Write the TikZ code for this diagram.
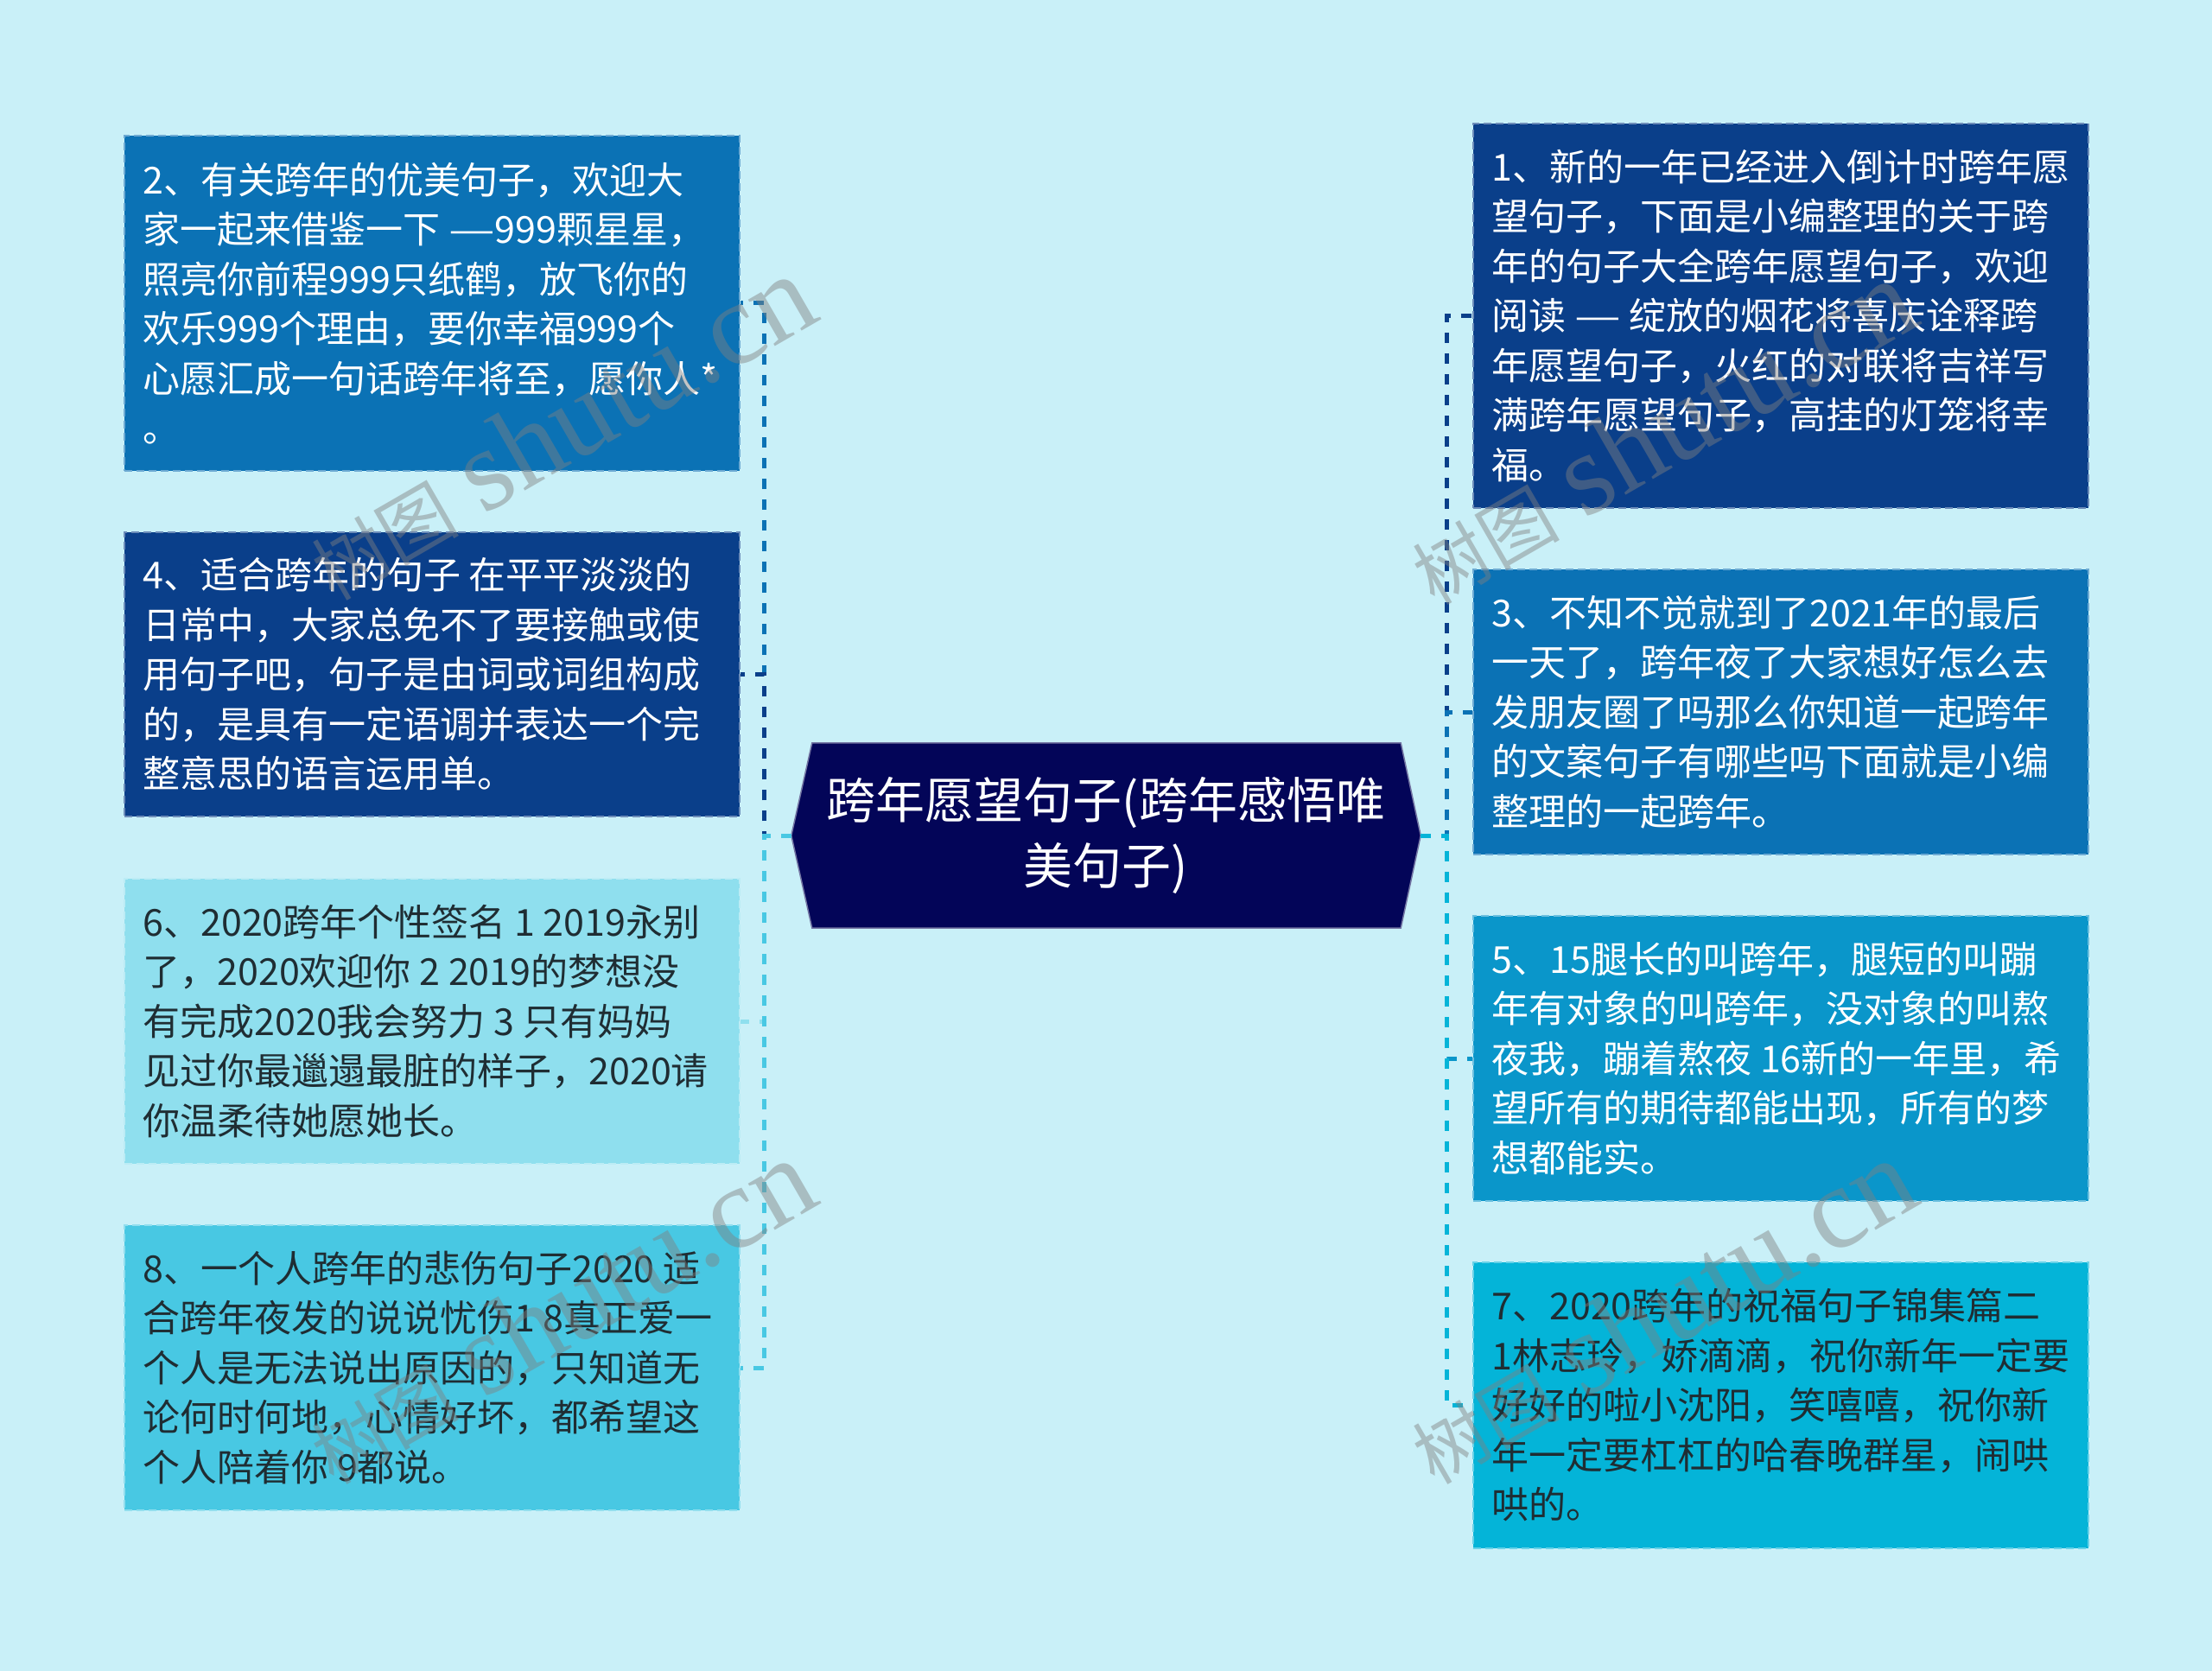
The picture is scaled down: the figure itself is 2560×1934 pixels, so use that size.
\documentclass[tikz,border=0pt]{standalone}
\usepackage{fontspec}
\setmainfont{Noto Sans CJK SC}
\newfontfamily\cjkf{Noto Sans CJK SC}
\newfontfamily\wmserif{Liberation Serif}
\definecolor{bgc}{RGB}{201,240,248}
\definecolor{ctr}{RGB}{3,5,88}
\definecolor{cmid}{RGB}{11,114,181}
\definecolor{cnavy}{RGB}{10,63,138}
\definecolor{clight}{RGB}{143,223,238}
\definecolor{ccyan}{RGB}{72,200,227}
\definecolor{cfive}{RGB}{10,150,202}
\definecolor{cseven}{RGB}{4,180,216}
\definecolor{dtext}{RGB}{31,45,51}
\tikzset{
  boxs/.style={rectangle, fill=#1, draw=#1!60!white, line width=2.5pt,
    dash pattern=on 9pt off 5pt, minimum width=712pt, inner sep=0pt},
  txt/.style={anchor=west, align=left, inner sep=0pt,
    font={\fontsize{43pt}{57.5pt}\selectfont}},
  conn/.style={draw=#1, line width=5pt, dash pattern=on 12pt off 12pt},
  roottext/.style={text=white, align=center, inner sep=0pt,
    font={\fontsize{57pt}{76pt}\selectfont}},
  wm/.style={text=black!50, opacity=0.45, inner sep=0pt, rotate=30}
}
\newcommand{\wmtext}{{\fontsize{85pt}{90pt}\selectfont 树图}\hspace{30pt}{\wmserif\fontsize{135pt}{140pt}\selectfont shutu.cn}}
\newcommand{\wdash}{\scalebox{1.4}[1]{—}}
\begin{document}
\begin{tikzpicture}[x=1pt,y=-1pt]
\fill[bgc] (0,0) rectangle (2560,1934);
\useasboundingbox (0,0) rectangle (2560,1934);

% boxes left
\node[boxs=cmid, minimum height=388pt] (b2) at (500,351) {};
\node[boxs=cnavy, minimum height=329pt] (b4) at (500,780.5) {};
\node[boxs=clight, minimum height=330pt] (b6) at (500,1182) {};
\node[boxs=ccyan, minimum height=330pt] (b8) at (500,1583) {};
% boxes right
\node[boxs=cnavy, minimum height=445pt] (b1) at (2061,365.5) {};
\node[boxs=cmid, minimum height=330pt] (b3) at (2061,824) {};
\node[boxs=cfive, minimum height=330pt] (b5) at (2061,1225) {};
\node[boxs=cseven, minimum height=331pt] (b7) at (2061,1626.5) {};

% root
\node[minimum width=728pt, minimum height=214pt, inner sep=0pt] (root) at (1280,967) {};
\filldraw[fill=ctr, draw=ctr!55!white, line width=1.5pt] ([xshift=24pt]root.north west) -- ([xshift=-23pt]root.north east) -- (root.east)
  -- ([xshift=-23pt]root.south east) -- ([xshift=24pt]root.south west) -- (root.west) -- cycle;
\node[roottext] (rt) at (root.center) {跨年愿望句子(跨年感悟唯\\美句子)};

% connectors
\draw[conn=cmid] (root.west) -- ++(-31,0) |- (b2.east);
\draw[conn=cnavy] (root.west) -- ++(-31,0) |- (b4.east);
\draw[conn=clight] (root.west) -- ++(-31,0) |- (b6.east);
\draw[conn=ccyan] (root.west) -- ++(-31,0) |- (b8.east);
\draw[conn=cnavy] (root.east) -- ++(30,0) |- (b1.west);
\draw[conn=cmid] (root.east) -- ++(30,0) |- (b3.west);
\draw[conn=cfive] (root.east) -- ++(30,0) |- (b5.west);
\draw[conn=cseven] (root.east) -- ++(30,0) |- (b7.west);

% texts
\node[txt, text=white] (t2) at ([xshift=22.5pt]b2.west) {2、有关跨年的优美句子，欢迎大\\家一起来借鉴一下 \wdash999颗星星，\\照亮你前程999只纸鹤，放飞你的\\欢乐999个理由，要你幸福999个\\心愿汇成一句话跨年将至，愿你人*\\。};
\node[txt, text=white] (t4) at ([xshift=22.5pt]b4.west) {4、适合跨年的句子 在平平淡淡的\\日常中，大家总免不了要接触或使\\用句子吧，句子是由词或词组构成\\的，是具有一定语调并表达一个完\\整意思的语言运用单。};
\node[txt, text=dtext] (t6) at ([xshift=22.5pt]b6.west) {6、2020跨年个性签名 1 2019永别\\了，2020欢迎你 2 2019的梦想没\\有完成2020我会努力 3 只有妈妈\\见过你最邋遢最脏的样子，2020请\\你温柔待她愿她长。};
\node[txt, text=dtext] (t8) at ([xshift=22.5pt]b8.west) {8、一个人跨年的悲伤句子2020 适\\合跨年夜发的说说忧伤1 8真正爱一\\个人是无法说出原因的，只知道无\\论何时何地，心情好坏，都希望这\\个人陪着你 9都说。};
\node[txt, text=white] (t1) at ([xshift=22.5pt]b1.west) {1、新的一年已经进入倒计时跨年愿\\望句子，下面是小编整理的关于跨\\年的句子大全跨年愿望句子，欢迎\\阅读 \wdash{} 绽放的烟花将喜庆诠释跨\\年愿望句子，火红的对联将吉祥写\\满跨年愿望句子，高挂的灯笼将幸\\福。};
\node[txt, text=white] (t3) at ([xshift=22.5pt]b3.west) {3、不知不觉就到了2021年的最后\\一天了，跨年夜了大家想好怎么去\\发朋友圈了吗那么你知道一起跨年\\的文案句子有哪些吗下面就是小编\\整理的一起跨年。};
\node[txt, text=white] (t5) at ([xshift=22.5pt]b5.west) {5、15腿长的叫跨年，腿短的叫蹦\\年有对象的叫跨年，没对象的叫熬\\夜我，蹦着熬夜 16新的一年里，希\\望所有的期待都能出现，所有的梦\\想都能实。};
\node[txt, text=dtext] (t7) at ([xshift=22.5pt]b7.west) {7、2020跨年的祝福句子锦集篇二\\1林志玲，娇滴滴，祝你新年一定要\\好好的啦小沈阳，笑嘻嘻，祝你新\\年一定要杠杠的哈春晚群星，闹哄\\哄的。};

% watermarks
\node[wm] (wm1) at (648,495) {\wmtext};
\node[wm] (wm2) at (1922,500) {\wmtext};
\node[wm] (wm3) at (648,1518) {\wmtext};
\node[wm] (wm4) at (1922,1518) {\wmtext};
\end{tikzpicture}
\end{document}
